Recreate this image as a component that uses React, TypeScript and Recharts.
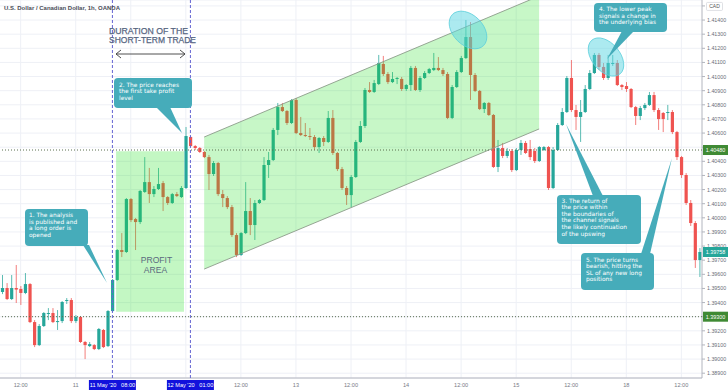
import React from 'react';
import { ComposedChart, Bar, Area, XAxis, YAxis, CartesianGrid, ReferenceLine } from 'recharts';

// hours counted from 11 May '20 00:00 (weekend gap removed)
const firstHour = -16;

// [open, high, low, close], one per hour
const candles: number[][] = [
    [1.39475, 1.39595, 1.3946, 1.39503],
    [1.39503, 1.39538, 1.39418, 1.39425],
    [1.39425, 1.39595, 1.39418, 1.39503],
    [1.39503, 1.39666, 1.39397, 1.39492],
    [1.39496, 1.39517, 1.39383, 1.39468],
    [1.39468, 1.39609, 1.3946, 1.39531],
    [1.39531, 1.39538, 1.39255, 1.39262],
    [1.39262, 1.39276, 1.39085, 1.39099],
    [1.39099, 1.39248, 1.39092, 1.39234],
    [1.39234, 1.39333, 1.39227, 1.39326],
    [1.39319, 1.39361, 1.39276, 1.39326],
    [1.39326, 1.39361, 1.39255, 1.39262],
    [1.39262, 1.39347, 1.39206, 1.39269],
    [1.39269, 1.39411, 1.39255, 1.39404],
    [1.39411, 1.39432, 1.3939, 1.39418],
    [1.39418, 1.39432, 1.39255, 1.39269],
    [1.39269, 1.39312, 1.39255, 1.39298],
    [1.39298, 1.39305, 1.39114, 1.39121],
    [1.39121, 1.39128, 1.39, 1.39099],
    [1.39092, 1.39121, 1.39085, 1.39106],
    [1.39099, 1.39106, 1.39064, 1.39071],
    [1.39071, 1.3922, 1.39064, 1.39213],
    [1.39206, 1.39213, 1.39078, 1.39085],
    [1.39092, 1.39347, 1.39085, 1.3934],
    [1.3934, 1.39567, 1.39333, 1.3956],
    [1.3956, 1.39779, 1.39553, 1.39772],
    [1.39772, 1.39892, 1.39722, 1.39758],
    [1.39758, 1.4014, 1.39751, 1.40133],
    [1.40133, 1.4014, 1.3997, 1.39984],
    [1.39991, 1.39999, 1.39772, 1.3997],
    [1.3997, 1.40197, 1.39956, 1.4019],
    [1.40183, 1.4043, 1.40176, 1.40253],
    [1.40253, 1.40353, 1.40105, 1.40168],
    [1.40168, 1.40225, 1.40147, 1.40204],
    [1.40204, 1.40353, 1.40197, 1.40239],
    [1.40246, 1.40261, 1.40048, 1.40147],
    [1.40147, 1.40154, 1.40091, 1.40105],
    [1.40105, 1.40176, 1.40098, 1.40168],
    [1.40168, 1.40183, 1.40147, 1.40154],
    [1.40147, 1.40225, 1.4014, 1.40211],
    [1.40211, 1.40643, 1.40204, 1.40579],
    [1.40572, 1.40579, 1.40501, 1.40508],
    [1.40508, 1.40515, 1.4048, 1.40494],
    [1.40494, 1.40501, 1.40459, 1.40466],
    [1.40466, 1.40473, 1.40423, 1.4043],
    [1.4043, 1.40445, 1.40197, 1.4031],
    [1.4031, 1.40402, 1.40296, 1.40388],
    [1.40388, 1.40395, 1.40154, 1.40168],
    [1.40168, 1.40197, 1.40076, 1.4014],
    [1.4014, 1.40154, 1.40062, 1.40076],
    [1.40076, 1.40091, 1.39864, 1.39878],
    [1.39878, 1.39892, 1.39722, 1.39737],
    [1.39737, 1.39899, 1.3973, 1.39892],
    [1.39892, 1.40253, 1.39885, 1.40048],
    [1.40048, 1.4014, 1.39878, 1.39949],
    [1.39949, 1.40126, 1.39843, 1.40105],
    [1.40105, 1.40133, 1.40098, 1.40126],
    [1.40126, 1.4043, 1.40119, 1.40374],
    [1.40374, 1.40466, 1.40282, 1.40409],
    [1.40409, 1.40636, 1.40402, 1.40622],
    [1.40622, 1.40813, 1.40586, 1.40784],
    [1.40784, 1.40813, 1.40749, 1.40756],
    [1.40756, 1.40763, 1.40657, 1.40671],
    [1.40671, 1.40841, 1.40664, 1.40834],
    [1.40834, 1.40848, 1.40593, 1.406],
    [1.406, 1.40714, 1.40579, 1.40586],
    [1.40586, 1.40671, 1.40572, 1.40579],
    [1.40579, 1.40636, 1.40551, 1.40572],
    [1.40572, 1.40586, 1.4048, 1.40501],
    [1.40501, 1.40572, 1.40459, 1.40565],
    [1.40565, 1.40579, 1.40508, 1.40537],
    [1.40537, 1.40756, 1.4053, 1.40707],
    [1.40707, 1.40763, 1.40445, 1.40459],
    [1.40459, 1.40466, 1.40331, 1.40345],
    [1.40345, 1.4036, 1.40197, 1.40211],
    [1.40211, 1.40225, 1.40091, 1.40161],
    [1.40161, 1.40303, 1.40076, 1.40289],
    [1.40289, 1.40551, 1.40282, 1.40537],
    [1.40537, 1.40685, 1.4053, 1.4065],
    [1.4065, 1.40919, 1.40636, 1.40905],
    [1.40905, 1.40961, 1.40884, 1.40891],
    [1.40891, 1.40976, 1.40884, 1.40954],
    [1.40947, 1.41153, 1.4094, 1.41096],
    [1.41089, 1.41146, 1.41004, 1.41018],
    [1.41018, 1.41032, 1.40947, 1.40961],
    [1.40961, 1.41032, 1.40954, 1.40983],
    [1.40983, 1.40997, 1.40947, 1.4099],
    [1.40983, 1.40997, 1.40898, 1.40912],
    [1.40912, 1.40947, 1.40898, 1.4094],
    [1.4094, 1.41075, 1.40898, 1.41061],
    [1.41061, 1.41075, 1.40898, 1.40905],
    [1.40905, 1.41004, 1.40891, 1.4099],
    [1.4099, 1.41039, 1.40983, 1.41025],
    [1.41025, 1.41061, 1.41018, 1.41053],
    [1.41046, 1.41167, 1.41039, 1.41061],
    [1.41061, 1.41138, 1.41039, 1.41046],
    [1.41046, 1.41061, 1.41004, 1.41018],
    [1.41018, 1.41032, 1.40699, 1.40707],
    [1.40707, 1.4094, 1.40699, 1.40926],
    [1.40926, 1.41046, 1.40919, 1.41032],
    [1.41032, 1.41146, 1.41025, 1.41131],
    [1.41131, 1.414, 1.41124, 1.4128],
    [1.4128, 1.41386, 1.40834, 1.41011],
    [1.41011, 1.41025, 1.40891, 1.40898],
    [1.40898, 1.40905, 1.40763, 1.4077],
    [1.4077, 1.4082, 1.40742, 1.40813],
    [1.40813, 1.4082, 1.40721, 1.40728],
    [1.40728, 1.40735, 1.40353, 1.4036],
    [1.4036, 1.40551, 1.40324, 1.40494],
    [1.40494, 1.4053, 1.40423, 1.40438],
    [1.40438, 1.40494, 1.40423, 1.40473],
    [1.40473, 1.40487, 1.40324, 1.40338],
    [1.40338, 1.40494, 1.40331, 1.4048],
    [1.4048, 1.40551, 1.40445, 1.4053],
    [1.4053, 1.40544, 1.40452, 1.40459],
    [1.40487, 1.40551, 1.40409, 1.4043],
    [1.40473, 1.40494, 1.40388, 1.40402],
    [1.40402, 1.40508, 1.40395, 1.40501],
    [1.4048, 1.40508, 1.40473, 1.40501],
    [1.40501, 1.40508, 1.40197, 1.40211],
    [1.40211, 1.40501, 1.40204, 1.4048],
    [1.4048, 1.40671, 1.40473, 1.40657],
    [1.40657, 1.40777, 1.4065, 1.40749],
    [1.40749, 1.41004, 1.40742, 1.4099],
    [1.4099, 1.41117, 1.40749, 1.40763],
    [1.40763, 1.40799, 1.40622, 1.40714],
    [1.40714, 1.40834, 1.40537, 1.40749],
    [1.40749, 1.4094, 1.40742, 1.40912],
    [1.40912, 1.41046, 1.40905, 1.41025],
    [1.41025, 1.41167, 1.41018, 1.41153],
    [1.41153, 1.41167, 1.41046, 1.41068],
    [1.41068, 1.41096, 1.40976, 1.4099],
    [1.4099, 1.41153, 1.40976, 1.41096],
    [1.41089, 1.41153, 1.41075, 1.41096],
    [1.41096, 1.41117, 1.40933, 1.4094],
    [1.4094, 1.40947, 1.40905, 1.40926],
    [1.40933, 1.40961, 1.40891, 1.40912],
    [1.40912, 1.40919, 1.40777, 1.40784],
    [1.40784, 1.40792, 1.40657, 1.40721],
    [1.40721, 1.40792, 1.40692, 1.40777],
    [1.40777, 1.40813, 1.40763, 1.40799],
    [1.40799, 1.40891, 1.40792, 1.40869],
    [1.40869, 1.40891, 1.40749, 1.40763],
    [1.40763, 1.40777, 1.40622, 1.40699],
    [1.40742, 1.40749, 1.40607, 1.40699],
    [1.40742, 1.40799, 1.40692, 1.40749],
    [1.40749, 1.40763, 1.40593, 1.40607],
    [1.40607, 1.40615, 1.40409, 1.4043],
    [1.4043, 1.40438, 1.40282, 1.40303],
    [1.40303, 1.40317, 1.40091, 1.40105],
    [1.40105, 1.40126, 1.39942, 1.39963],
    [1.39963, 1.39977, 1.39645, 1.39701],
    [1.39701, 1.39786, 1.39581, 1.39758],
];

const hourTicks = [-12, 0, 8, 25, 36, 48, 60, 72, 84, 96, 108, 120, 132];
const hourLabels = ['12:00', '11', "11 May '20   08:00", "12 May '20   01:00", '12:00', '13', '12:00', '14', '12:00', '15', '12:00', '18', '12:00'];
const gridHours = [-12, 0, 12, 24, 36, 48, 60, 72, 84, 96, 108, 120, 132];
const priceTicks = [
    1.389, 1.39, 1.391, 1.392, 1.393, 1.394, 1.395, 1.396, 1.397, 1.398, 1.399, 1.4, 1.401,
    1.402, 1.403, 1.404, 1.405, 1.406, 1.407, 1.408, 1.409, 1.41, 1.411, 1.412, 1.413, 1.414, 1.415,
];
// tick labels covered by the price tags on the scale
const coveredTicks = [1.405, 1.393];

const entryHour = 8;
const exitHour = 25;
const takeProfit = 1.4048;
const stopLevel = 1.393;
const lastPrice = 1.39758;

const profitZone = [
    { h: 8.8, band: [1.39335, 1.40472] },
    { h: 23.6, band: [1.39335, 1.40472] },
];
const channel = [
    { h: 28.0, band: [1.39637, 1.40572] },
    { h: 101.0, band: [1.40629, 1.4157] },
];

const rows = candles.map((c, i) => ({
    h: firstHour + i,
    o: c[0],
    hi: c[1],
    lo: c[2],
    c: c[3],
    range: [c[2], c[1]],
}));

const UP = '#26a69a';
const DOWN = '#ef5350';
const FONT = "'Liberation Sans', Arial, sans-serif";
const NOTE = '#46acba';
const X_DOMAIN = [-16.5, 136.5];
const Y_DOMAIN = [1.38866, 1.41542];

const Candle = (props: any) => {
    const { x, y, width, height, payload } = props;
    if (x == null || y == null) return null;
    const { o, c, hi, lo } = payload;
    const top = Math.min(y, y + height);
    const bot = Math.max(y, y + height);
    const px = (v: number) => (hi === lo ? top : top + ((hi - v) / (hi - lo)) * (bot - top));
    const color = c >= o ? UP : DOWN;
    const cx = x + width / 2;
    const b1 = px(Math.max(o, c));
    const b2 = px(Math.min(o, c));
    return (
        <g>
            <line x1={cx} x2={cx} y1={top} y2={bot} stroke={color} strokeOpacity={0.75} />
            <rect x={cx - 1.6} y={b1} width={3.2} height={Math.max(1, b2 - b1)} fill={color} />
        </g>
    );
};

const HourTick = (props: any) => {
    const { x, payload } = props;
    const text = hourLabels[hourTicks.indexOf(payload.value)];
    if (payload.value === entryHour || payload.value === exitHour) {
        return (
            <g>
                <rect x={x - 23.5} y={380} width={47} height={10} fill="#1212dc" />
                <text x={x} y={387.3} textAnchor="middle" fontSize={5.6} fill="#fff" fontFamily={FONT} style={{ whiteSpace: 'pre' }}>
                    {text}
                </text>
            </g>
        );
    }
    return (
        <text x={x} y={387.3} textAnchor="middle" fontSize={5.6} fill="#787b86" fontFamily={FONT}>
            {text}
        </text>
    );
};

const PriceTick = (props: any) => {
    const { x, y, payload } = props;
    if (payload.value === 1.415) {
        return (
            <g>
                <rect x={x - 0.5} y={y - 3.5} width={16} height={8} fill="#fff" stroke="#c9ccd4" strokeWidth={0.6} rx={1} />
                <text x={x + 7.5} y={y + 2.2} textAnchor="middle" fontSize={5} fill="#555" fontFamily={FONT}>
                    CAD
                </text>
            </g>
        );
    }
    if (coveredTicks.includes(payload.value)) return <g />;
    return (
        <text x={x} y={y + 2} fontSize={5.3} fill="#6a6d78" fontFamily={FONT}>
            {payload.value.toFixed(5)}
        </text>
    );
};

const priceTag = (text: string, bg: string) => (props: any) => {
    const vb = props.viewBox || {};
    const x = (vb.x || 0) + (vb.width || 0);
    const y = vb.y || 0;
    return (
        <g>
            <rect x={x + 1} y={y - 5} width={25} height={10} fill={bg} />
            <text x={x + 13.5} y={y + 2} textAnchor="middle" fontSize={5.4} fill="#fff" fontFamily={FONT}>
                {text}
            </text>
        </g>
    );
};

const notes = [
    {
        box: [25, 209, 63, 37],
        tail: '83,245 89,245 107,283',
        lines: ['1. The analysis', 'is published and', 'a long order is', 'opened'],
        tx: 29,
        ty: 217,
    },
    {
        box: [114, 78, 78, 30],
        tail: '156,107 170,107 182,133',
        lines: ['2. The price reaches', 'the first take profit', 'level'],
        tx: 119,
        ty: 86.5,
    },
    {
        box: [557, 195, 84, 49],
        tail: '593,196 603,196 566,124',
        lines: ['3. The return of', 'the price within', 'the boundaries of', 'the channel signals', 'the likely continuation', 'of the upswing'],
        tx: 561.5,
        ty: 202.5,
    },
    {
        box: [594, 3, 73, 29],
        tail: '622,31 634,31 607,59',
        lines: ['4. The lower peak', 'signals a change in', 'the underlying bias'],
        tx: 599,
        ty: 11,
    },
    {
        box: [581, 253, 73, 37],
        tail: '641,254 650,254 672,158',
        lines: ['5. The price turns', 'bearish, hitting the', 'SL of any new long', 'positions'],
        tx: 586,
        ty: 261.5,
    },
];

const Overlay = () => (
    <svg width={728} height={391} style={{ position: 'absolute', left: 0, top: 0, pointerEvents: 'none' }}>
        <text x={4} y={10} fontSize={6.2} fontWeight="bold" fill="#4a4d57" fontFamily={FONT} textLength={116} lengthAdjust="spacingAndGlyphs">
            U.S. Dollar / Canadian Dollar, 1h, OANDA
        </text>
        <text x={109} y={33.5} fontSize={9.6} fill="#56657f" stroke="#56657f" strokeWidth={0.25} fontFamily={FONT} textLength={79} lengthAdjust="spacingAndGlyphs">
            DURATION OF THE
        </text>
        <text x={109} y={43} fontSize={9.6} fill="#56657f" stroke="#56657f" strokeWidth={0.25} fontFamily={FONT} textLength={87} lengthAdjust="spacingAndGlyphs">
            SHORT-TERM TRADE
        </text>
        <g stroke="#3c3c3c" strokeWidth={0.9} fill="none">
            <line x1={116} y1={54} x2={185} y2={54} />
            <polyline points="121,50 116,54 121,58" />
            <polyline points="180,50 185,54 180,58" />
        </g>
        <text x={156.5} y={262.5} textAnchor="middle" fontSize={8.6} fill="#5b6a7e" fontFamily={FONT}>
            PROFIT
        </text>
        <text x={155.5} y={272.5} textAnchor="middle" fontSize={8.6} fill="#5b6a7e" fontFamily={FONT}>
            AREA
        </text>
        <ellipse cx={468} cy={30} rx={22} ry={15} transform="rotate(45 468 30)" fill="#5ad6e2" fillOpacity={0.5} stroke="#5fd0dc" strokeWidth={0.8} />
        <ellipse cx={606} cy={57} rx={22} ry={14} transform="rotate(50 606 57)" fill="#5ad6e2" fillOpacity={0.5} stroke="#5fd0dc" strokeWidth={0.8} />
        {notes.map((n, k) => (
            <g key={`note-${k}`}>
                <rect x={n.box[0]} y={n.box[1]} width={n.box[2]} height={n.box[3]} rx={4} fill={NOTE} />
                <polygon points={n.tail} fill={NOTE} />
                {n.lines.map((line, j) => (
                    <text key={j} x={n.tx} y={n.ty + j * 6.6} fontSize={5.9} fill="#fff" fontFamily="'DejaVu Sans', Verdana, sans-serif">
                        {line}
                    </text>
                ))}
            </g>
        ))}
    </svg>
);

// second chart on top, same frame, holds the translucent zones and level lines
const ZoneLayer = () => (
    <div style={{ position: 'absolute', left: 0, top: 0, pointerEvents: 'none' }}>
        <ComposedChart width={728} height={391} data={rows} margin={{ top: 0, right: 0, bottom: 0, left: 0 }}>
            <XAxis dataKey="h" type="number" domain={X_DOMAIN} allowDataOverflow ticks={hourTicks} tick={false} tickLine={false} axisLine={false} height={13} />
            <YAxis orientation="right" type="number" domain={Y_DOMAIN} allowDataOverflow ticks={priceTicks} tick={false} tickLine={false} axisLine={false} width={26} />
            <Area data={profitZone} dataKey="band" type="linear" stroke="none" fill="rgb(40,225,40)" fillOpacity={0.28} isAnimationActive={false} activeDot={false} dot={false} />
            <Area
                data={channel}
                dataKey="band"
                type="linear"
                stroke="#8c9c8a"
                strokeWidth={0.9}
                fill="rgb(40,225,40)"
                fillOpacity={0.26}
                isAnimationActive={false}
                activeDot={false}
                dot={false}
            />
            <ReferenceLine y={takeProfit} stroke="#5b6e4f" strokeDasharray="1 2" label={priceTag('1.40480', '#3f8a34')} />
            <ReferenceLine y={stopLevel} stroke="#5b6e4f" strokeDasharray="1 2" label={priceTag('1.39300', '#3f8a34')} />
            <ReferenceLine y={lastPrice} stroke="none" strokeOpacity={0} label={priceTag('1.39758', UP)} />
            <ReferenceLine x={entryHour} stroke="#6464d2" strokeDasharray="3 2" />
            <ReferenceLine x={exitHour} stroke="#6464d2" strokeDasharray="3 2" />
        </ComposedChart>
    </div>
);

export default function App() {
    return (
        <div style={{ position: 'fixed', left: 0, top: 0, width: 728, height: 391, background: '#fff' }}>
            <ComposedChart width={728} height={391} data={rows} margin={{ top: 0, right: 0, bottom: 0, left: 0 }}>
                <CartesianGrid stroke="#eef0f6" verticalValues={gridHours} />
                <XAxis
                    dataKey="h"
                    type="number"
                    domain={X_DOMAIN}
                    allowDataOverflow
                    ticks={hourTicks}
                    interval={0}
                    tick={<HourTick />}
                    tickLine={false}
                    axisLine={{ stroke: '#b2b5be' }}
                    height={13}
                />
                <YAxis
                    orientation="right"
                    type="number"
                    domain={Y_DOMAIN}
                    allowDataOverflow
                    ticks={priceTicks}
                    interval={0}
                    width={26}
                    tick={<PriceTick />}
                    tickSize={3}
                    tickMargin={2}
                    tickLine={{ stroke: '#b2b5be' }}
                    axisLine={{ stroke: '#b2b5be' }}
                />
                <Bar dataKey="range" barSize={3} shape={(p: any) => <Candle {...p} />} isAnimationActive={false} />
            </ComposedChart>
            <ZoneLayer />
            <Overlay />
        </div>
    );
}
